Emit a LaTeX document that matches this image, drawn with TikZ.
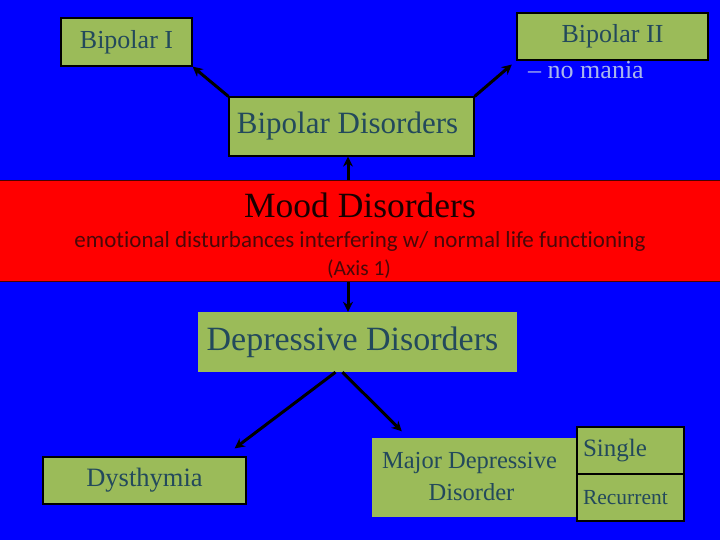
\documentclass[tikz,border=0pt]{standalone}
\usepackage{fontspec}
\setmainfont{Liberation Serif}
\newfontfamily\calib[Ligatures=NoCommon]{Carlito}
\usetikzlibrary{arrows.meta}
\definecolor{bg}{HTML}{0000FF}
\definecolor{gbox}{HTML}{9BBB59}
\definecolor{gtext}{HTML}{23495C}
\definecolor{rbox}{HTML}{FF0000}
\definecolor{rtext}{HTML}{4A0808}
\definecolor{lblue}{HTML}{A9B6EC}
\tikzset{
  gnode/.style={fill=gbox, text=gtext, inner sep=0pt, align=center},
  bordered/.style={draw=black, line width=1.2pt},
  arr/.style={line width=3pt, black, -{Stealth[length=10pt,width=10pt]}},
  fs/.style={font=\fontsize{#1}{#1}\selectfont}
}
\begin{document}
\begin{tikzpicture}[x=1pt,y=-1pt]
\useasboundingbox (0,0) rectangle (720,540);
\fill[bg] (0,0) rectangle (720,540);

% Bipolar branch
\node[gnode, bordered, minimum width=131pt, minimum height=48pt, fs=26] (bip1) at (126.5,42) {Bipolar I};
\node[gnode, bordered, minimum width=191pt, minimum height=47pt, fs=26] (bip2) at (612.5,36.5) {Bipolar II};
\node[text=lblue, inner sep=0pt, fs=26] (nomania) at (586,70) {-- no mania};
\node[gnode, bordered, minimum width=245pt, minimum height=59pt, fs=31] (bipd) at (351.5,126.5) {Bipolar Disorders\hspace*{8pt}};

% Mood disorders band
\node[fill=rbox, draw=black!70!red, line width=0.8pt, minimum width=722pt, minimum height=101pt, inner sep=0pt] (mood) at (360,231) {};
\node[text=black!90!red, inner sep=0pt, fs=35.5] (moodt) at (360,205) {Mood Disorders};
\node[text=rtext, inner sep=0pt, font=\calib\fontsize{23}{23}\selectfont] (emo) at (360,241) {emotional disturbances interfering w/ normal life functioning};
\node[text=rtext, inner sep=0pt, font=\calib\fontsize{21.5}{21.5}\selectfont] (axis) at (359,269) {(Axis 1)};

% Depressive branch
\node[gnode, minimum width=319pt, minimum height=60pt, fs=34] (depd) at (357.5,342) {Depressive Disorders\hspace*{10pt}};
\node[gnode, bordered, minimum width=203pt, minimum height=47pt, fs=26.5] (dys) at (144.5,480.5) {Dysthymia};
\node[gnode, minimum width=205pt, minimum height=79pt, font=\fontsize{24.5}{32}\selectfont] (mdd) at (474.5,477) {Major Depressive\hspace*{10pt}\\ Disorder\hspace*{6pt}};
\node[gnode, bordered, minimum width=107pt, minimum height=47pt, fs=25, text width=95pt, align=left] (single) at (630.5,450.5) {Single};
\node[gnode, bordered, minimum width=107pt, minimum height=47pt, fs=21.5, text width=95pt, align=left] (recur) at (630.5,497.5) {Recurrent};

% Connectors
\draw[arr] (bipd.north west) -- (bip1.south east);
\draw[arr, shorten >=6pt] (bipd.north east) -- (bip2.south west);
\draw[arr] (mood.north -| 348,0) -- (bipd.south -| 348,0);
\draw[arr] (mood.south -| 348,0) -- (depd.north -| 348,0);
\draw[arr] ([xshift=-22pt]depd.south) -- ([shift={(-12,-8)}]dys.north east);
\draw[arr] ([xshift=-15pt]depd.south) -- ([shift={(30,-6)}]mdd.north west);
\end{tikzpicture}
\end{document}
